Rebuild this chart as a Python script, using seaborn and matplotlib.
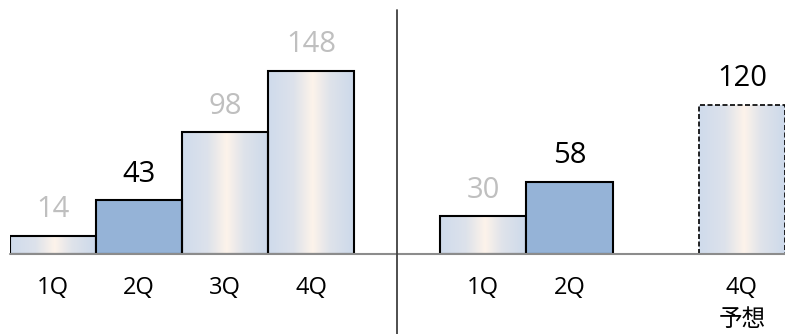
import numpy as np
import pandas as pd
import matplotlib
matplotlib.use("Agg")
import matplotlib.pyplot as plt
from matplotlib.colors import LinearSegmentedColormap
from matplotlib.lines import Line2D
import seaborn as sns

# ---- data ----
quarters = ["1Q", "2Q", "3Q", "4Q"]
left_values = [14, 43, 98, 148]
right_quarters = ["1Q", "2Q", "4Q"]
right_values = [30, 58, 120]
right_ticklabels = ["1Q", "2Q", "", "4Q\n予想"]
left_label_colors = ["#bfbfbf", "#000000", "#bfbfbf", "#bfbfbf"]
right_label_colors = ["#bfbfbf", "#000000", "#000000"]
highlight = "2Q"

sns.set_theme(style="white")
plt.rcParams["font.family"] = ["Open Sans", "Noto Sans CJK JP", "DejaVu Sans"]

W, H = 785, 334
fig = plt.figure(figsize=(W / 100, H / 100), dpi=100)
base_y = 253.5
top_px = 0
ax_h = (base_y - top_px) / H
ax_b = (H - base_y) / H
axL = fig.add_axes([10 / W, ax_b, 387 / W, ax_h])
axR = fig.add_axes([397 / W, ax_b, 388 / W, ax_h])

grad_cmap = LinearSegmentedColormap.from_list(
    "g", [(0.0, "#cfdbec"), (0.3, "#dde2eb"), (0.52, "#fdf3ea"),
          (0.72, "#dfe3eb"), (1.0, "#ccd9ea")])
grad = np.linspace(0, 1, 256).reshape(1, -1)
ymax = base_y / 1.236


def draw(ax, cats, vals, order, xlim, label_colors, dashed_cat=None):
    df = pd.DataFrame({"q": cats, "v": vals})
    sns.barplot(data=df, x="q", y="v", order=order, width=1.0, ax=ax,
                color="#95b3d7", saturation=1, edgecolor="black", linewidth=1.5,
                errorbar=None, zorder=3)
    ax.set_xlim(*xlim)
    ax.set_ylim(0, ymax)
    patches = [p for p in ax.patches if np.isfinite(p.get_height()) and p.get_height() > 0]
    for cat, p, col in zip(cats, patches, label_colors):
        x0, w, h = p.get_x(), p.get_width(), p.get_height()
        if cat != highlight:
            p.set_facecolor("none")
            im = ax.imshow(grad, cmap=grad_cmap, aspect="auto",
                           extent=(x0, x0 + w, 0, h), zorder=2,
                           interpolation="bilinear")
            im.set_clip_path(p)
        if dashed_cat is not None and cat == dashed_cat:
            p.set_linestyle((0, (3, 1.5)))
            p.set_linewidth(1.2)
        ax.annotate(str(h if h % 1 else int(h)), (x0 + w / 2, h),
                    xytext=(0, 13.5), textcoords="offset points",
                    ha="center", va="baseline", fontsize=21, color=col,
                    zorder=5)
    ax.set_xlim(*xlim)
    ax.set_ylim(0, ymax)
    ax.axhline(0, color="#8c8c8c", lw=1.5, zorder=4, clip_on=False)
    for s in ax.spines.values():
        s.set_visible(False)
    ax.set_yticks([])
    ax.set_xlabel("")
    ax.set_ylabel("")
    ax.tick_params(axis="x", length=0, pad=16, labelsize=17, labelcolor="black")
    ax.patch.set_alpha(0)


draw(axL, quarters, left_values, quarters, (-0.5, 4.0), left_label_colors)
axL.set_xticks(range(4))
axL.set_xticklabels(quarters)
draw(axR, right_quarters, right_values, quarters, (-1.0, 3.5), right_label_colors,
     dashed_cat="4Q")
axR.set_xticks(range(4))
axR.set_xticklabels(right_ticklabels, linespacing=1.45)

fig.add_artist(Line2D([396.5 / W, 396.5 / W], [0, 1 - 10 / H],
                      transform=fig.transFigure, color="#404040", lw=1.3))

fig.savefig("out.png", dpi=100)
